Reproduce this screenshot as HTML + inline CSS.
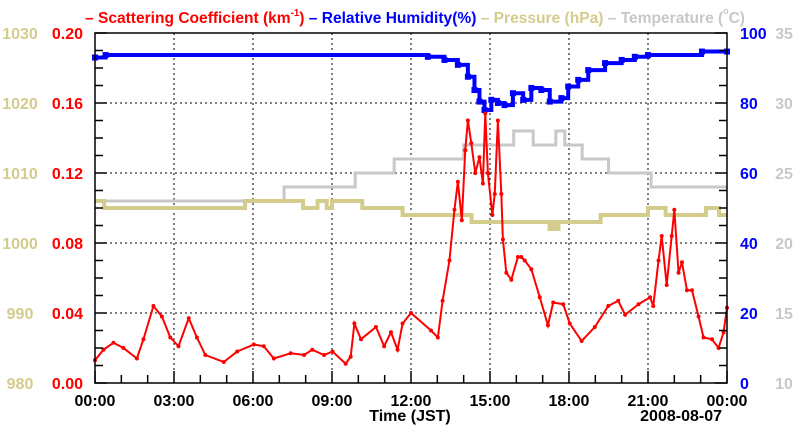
<!DOCTYPE html>
<html><head><meta charset="utf-8">
<style>
body{margin:0;background:#fff;width:800px;height:434px;overflow:hidden;font-family:"Liberation Sans",sans-serif;}
svg text{font-family:"Liberation Sans",sans-serif;font-weight:bold;}
</style></head>
<body>
<svg id="chart" width="800" height="434" viewBox="0 0 800 434" xmlns="http://www.w3.org/2000/svg">
<text x="415" y="23" font-size="16" text-anchor="middle" textLength="660" lengthAdjust="spacingAndGlyphs"><tspan fill="#ff0000">– Scattering Coefficient (km<tspan font-size="10" dy="-7">-1</tspan><tspan dy="7">)</tspan></tspan><tspan fill="#0000ff"> – Relative Humidity(%)</tspan><tspan fill="#d4cc8c"> – Pressure (hPa)</tspan><tspan fill="#c8c8c8"> – Temperature (</tspan><tspan fill="#c8c8c8" font-size="9" dy="-9">o</tspan><tspan fill="#c8c8c8" dy="9">C)</tspan></text>
<g id="grid"></g><g id="series"></g><g id="axes"></g>
<text x="410" y="421" font-size="16" text-anchor="middle">Time (JST)</text>
<text x="722" y="421" font-size="16" text-anchor="end">2008-08-07</text>
</svg>
<script>
const scatHours=[0,0.32,0.7,1.08,1.59,1.84,2.22,2.54,2.86,3.17,3.56,3.87,4.19,4.89,5.4,6.03,6.41,6.79,7.43,7.94,8.25,8.7,9.02,9.52,9.71,9.85,10.1,10.67,10.98,11.24,11.49,11.68,12.0,12.76,13.02,13.2,13.46,13.65,13.78,13.93,14.06,14.16,14.29,14.44,14.6,14.73,14.82,14.92,15.09,15.18,15.3,15.43,15.49,15.62,15.81,16.06,16.19,16.32,16.57,16.89,17.2,17.4,17.78,18.03,18.48,18.98,19.49,19.87,20.13,20.64,21.08,21.2,21.4,21.52,21.71,21.9,22.0,22.16,22.29,22.48,22.67,22.92,23.11,23.43,23.68,23.87,24.0];
const scatValues=[0.013,0.019,0.023,0.020,0.014,0.025,0.044,0.038,0.026,0.021,0.037,0.026,0.016,0.012,0.018,0.022,0.021,0.014,0.017,0.016,0.019,0.016,0.018,0.011,0.015,0.034,0.025,0.032,0.021,0.029,0.019,0.034,0.040,0.030,0.026,0.047,0.070,0.099,0.115,0.093,0.133,0.150,0.137,0.120,0.129,0.114,0.154,0.120,0.096,0.108,0.150,0.108,0.082,0.063,0.059,0.072,0.072,0.070,0.065,0.049,0.033,0.046,0.045,0.034,0.024,0.032,0.044,0.047,0.039,0.045,0.049,0.044,0.070,0.084,0.056,0.084,0.099,0.063,0.069,0.053,0.053,0.038,0.026,0.025,0.020,0.029,0.043];
const rhHours=[0,0.4,12.64,13.27,13.78,14.16,14.41,14.6,14.79,15.05,15.3,15.55,15.87,16.26,16.57,16.95,17.27,17.71,17.97,18.35,18.73,19.37,20.0,20.5,21.0,23.05,24];
const rhValues=[93,93.7,93.2,92.3,90.9,87.5,83.7,80.4,78,80.9,80,79.4,82.8,80.9,84.3,83.7,80.4,81.4,84.7,86.6,89.4,91.4,92.3,93.2,93.7,94.7,94.7];
const presHours=[0,0.35,5.7,7.9,8.45,8.8,9.0,10.15,11.68,14.3,17.26,17.4,17.5,17.6,19.2,21.0,21.67,23.2,23.7,24];
const presValues=[1006,1005,1006,1005,1006,1005,1006,1005,1004,1003,1002,1003,1002,1003,1004,1005,1004,1005,1004,1004];
const tempHours=[0,7.18,9.88,11.36,14.0,15.9,16.64,17.5,17.84,18.5,19.5,21.12,24];
const tempValues=[23,24,25,26,27,28,27,28,27,26,25,24,24];
const xTickLabels=["00:00","03:00","06:00","09:00","12:00","15:00","18:00","21:00","00:00"];
const scatTicks=["0.00","0.04","0.08","0.12","0.16","0.20"];
const presTicks=["980","990","1000","1010","1020","1030"];
const rhTicks=["0","20","40","60","80","100"];
const tempTicks=["10","15","20","25","30","35"];

const L=95,R=727,T=33,B=383;
const xs=h=>L+(R-L)*h/24;
const yScat=v=>B-(B-T)*v/0.2;
const yRH=v=>B-(B-T)*v/100;
const yPres=v=>B-(B-T)*(v-980)/50;
const yTemp=v=>B-(B-T)*(v-10)/25;
const NS="http://www.w3.org/2000/svg";
function mk(tag,parent,attrs){const e=document.createElementNS(NS,tag);for(const k in attrs)e.setAttribute(k,attrs[k]);parent.appendChild(e);return e;}
const grid=document.getElementById('grid'),ser=document.getElementById('series'),ax=document.getElementById('axes');

for(let i=1;i<8;i++){const g=mk('line',grid,{x1:xs(i*3),x2:xs(i*3),y1:T,y2:B,stroke:'#000','stroke-width':1,'stroke-dasharray':'2,3'});

}
for(let i=1;i<5;i++){const y=yScat(i*0.04);const g=mk('line',grid,{x1:L,x2:R,y1:y,y2:y,stroke:'#000','stroke-width':1,'stroke-dasharray':'2,3'});

}

function stepPath(hs,vs,yf){let d='M'+xs(hs[0])+','+yf(vs[0]);for(let i=1;i<hs.length;i++){d+=' H'+xs(hs[i])+' V'+yf(vs[i]);}return d;}
const tp=mk('path',ser,{d:stepPath(tempHours,tempValues,yTemp),fill:'none',stroke:'#c8c8c8','stroke-width':3});


const pp=mk('path',ser,{d:stepPath(presHours,presValues,yPres),fill:'none',stroke:'#d4cc8c','stroke-width':4});


const rp=mk('path',ser,{d:stepPath(rhHours,rhValues,yRH),fill:'none',stroke:'#0000ff','stroke-width':4});


for(let i=0;i<rhHours.length;i++){const m=mk('rect',ser,{x:xs(rhHours[i])-3,y:yRH(rhValues[i])-3,width:6,height:6,fill:'#0000ff'});

}
const sp=mk('polyline',ser,{points:scatHours.map((h,i)=>xs(h)+','+yScat(scatValues[i])).join(' '),fill:'none',stroke:'#ff0000','stroke-width':2});


for(let i=0;i<scatHours.length;i++){const m=mk('circle',ser,{cx:xs(scatHours[i]),cy:yScat(scatValues[i]),r:2,fill:'#ff0000'});

}

mk('rect',ax,{x:L,y:T,width:R-L,height:B-T,fill:'none',stroke:'#000','stroke-width':1.5});
for(let i=0;i<=20;i++){const y=B-(B-T)*i/20;const len=i%4==0?12:8;
mk('line',ax,{x1:L,x2:L+len,y1:y,y2:y,stroke:'#000','stroke-width':1.5});
mk('line',ax,{x1:R,x2:R-len,y1:y,y2:y,stroke:'#000','stroke-width':1.5});}
for(let i=0;i<=24;i++){const x=xs(i);const len=i%3==0?12:8;mk('line',ax,{x1:x,x2:x,y1:B,y2:B-len,stroke:'#000','stroke-width':1.5});}
xTickLabels.forEach((t,i)=>{const e=mk('text',ax,{x:xs(i*3),y:406,'font-size':16,'text-anchor':'middle',fill:'#000'});e.textContent=t;

});
for(let i=0;i<6;i++){const y=B-(B-T)*i/5+6;
let e=mk('text',ax,{x:83,y:y,'font-size':16,'text-anchor':'end',fill:'#ff0000'});e.textContent=scatTicks[i];


e=mk('text',ax,{x:20,y:y,'font-size':16,'text-anchor':'middle',fill:'#d4cc8c','font-weight':'normal'});e.textContent=presTicks[i];


e=mk('text',ax,{x:740,y:y,'font-size':16,'text-anchor':'start',fill:'#0000ff'});e.textContent=rhTicks[i];


e=mk('text',ax,{x:784,y:y,'font-size':16,'text-anchor':'middle',fill:'#c8c8c8','font-weight':'normal'});e.textContent=tempTicks[i];

}
</script>
</body></html>
